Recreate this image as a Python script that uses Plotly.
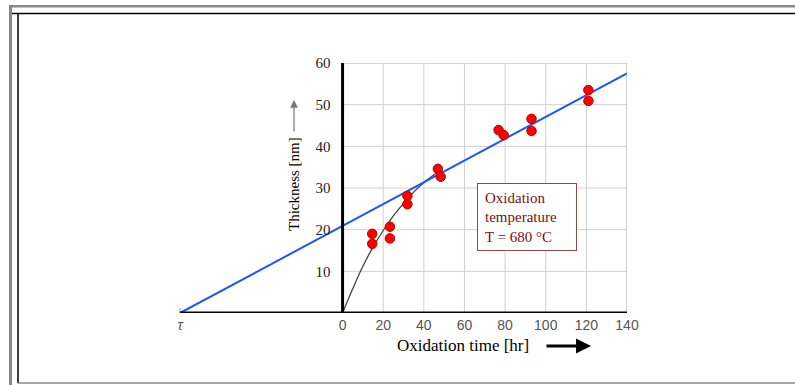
import plotly.graph_objects as go

# ---- data ----
meas_time = [14.6, 14.6, 23.3, 23.3, 31.9, 31.9, 46.9, 48.3, 76.8, 79.3, 93.0, 93.0, 121.0, 121.0]
meas_thick = [19.0, 16.6, 20.7, 17.9, 28.1, 26.1, 34.6, 32.7, 43.9, 42.7, 46.6, 43.7, 53.5, 50.9]

curve_time = [0, 5, 10, 15, 20, 25, 30, 35, 40, 45, 48]
curve_thick = [0, 5.8, 11.2, 15.8, 19.8, 23.3, 26.3, 29.0, 31.3, 33.2, 34.2]

fit_time = [-80, 140]
fit_thick = [0, 57.5]

TAU = -80
x_ticks = [0, 20, 40, 60, 80, 100, 120, 140]
y_ticks = [10, 20, 30, 40, 50, 60]
X_MIN, X_MAX = -81, 140
Y_MIN, Y_MAX = 0, 60

# ---- layout geometry ----
W, H = 795, 385
ML, MR, MT, MB = 178, 168, 63, 72
PW, PH = W - ML - MR, H - MT - MB


def xp(px):
    return (px - ML) / PW


def yp(py):
    return (H - MB - py) / PH


fig = go.Figure()

# grid as shapes (only over positive time)
shapes = []
for v in y_ticks:
    shapes.append(dict(type="line", xref="x", yref="y", x0=0, x1=x_ticks[-1], y0=v, y1=v,
                       line=dict(color="#b0b0b0" if v == y_ticks[-1] else "#d0d0d0", width=1), layer="below"))
for v in x_ticks[1:]:
    shapes.append(dict(type="line", xref="x", yref="y", x0=v, x1=v, y0=Y_MIN, y1=Y_MAX,
                       line=dict(color="#a0a0a0" if v == x_ticks[-1] else "#d0d0d0", width=1), layer="below"))
# tau tick
shapes.append(dict(type="line", xref="x", yref="y", x0=TAU, x1=TAU, y0=-1.4, y1=1.2,
                   line=dict(color="#999999", width=1)))
# y axis line at time 0
shapes.append(dict(type="line", xref="x", yref="y", x0=0, x1=0, y0=Y_MIN, y1=Y_MAX,
                   line=dict(color="black", width=3)))
# x axis line
shapes.append(dict(type="line", xref="x", yref="y", x0=TAU, x1=X_MAX, y0=0, y1=0,
                   line=dict(color="black", width=3)))

# page frame
shapes += [
    dict(type="rect", xref="paper", yref="paper", x0=xp(9), x1=xp(12), y0=yp(385), y1=yp(5),
         fillcolor="#888888", line=dict(width=0)),
    dict(type="rect", xref="paper", yref="paper", x0=xp(9), x1=xp(800), y0=yp(7.5), y1=yp(5),
         fillcolor="#888888", line=dict(width=0)),
    dict(type="line", xref="paper", yref="paper", x0=xp(12), x1=xp(800), y0=yp(13.5), y1=yp(13.5),
         line=dict(color="black", width=1.5)),
    dict(type="line", xref="paper", yref="paper", x0=xp(18), x1=xp(18), y0=yp(13.5), y1=yp(383),
         line=dict(color="black", width=1.5)),
    dict(type="line", xref="paper", yref="paper", x0=xp(18), x1=xp(800), y0=yp(383), y1=yp(383),
         line=dict(color="#888888", width=1.5)),
]

fig.add_trace(go.Scatter(x=curve_time, y=curve_thick, mode="lines", line=dict(color="#444444", width=1.3),
                         line_shape="spline", hoverinfo="skip"))
fig.add_trace(go.Scatter(x=fit_time, y=fit_thick, mode="lines", line=dict(color="#1a55ff", width=2),
                         hoverinfo="skip"))
fig.add_trace(go.Scatter(x=meas_time, y=meas_thick, mode="markers",
                         marker=dict(color="#ff0000", size=9.5, line=dict(color="#c00000", width=1))))

annotations = [
    dict(x=90.9, y=23.0, xref="x", yref="y", xanchor="center", yanchor="middle",
         text="Oxidation<br>temperature<br>T = 680 °C", showarrow=False, align="left",
         font=dict(family="Liberation Serif", size=15, color="#7a1010"),
         bordercolor="#8b4a4a", borderwidth=1, borderpad=7, bgcolor="white", width=84, height=52),
    dict(x=xp(294), y=yp(184), xref="paper", yref="paper", xanchor="center", yanchor="middle",
         text="Thickness [nm]", textangle=-90,
         showarrow=False, font=dict(family="Liberation Serif", size=15, color="black")),
    dict(x=xp(294), y=yp(100), xref="paper", yref="paper", text="", showarrow=True, ax=0, ay=33,
         arrowhead=2, arrowsize=1.3, arrowwidth=1.2, arrowcolor="#777777"),
    dict(x=xp(463), y=yp(345), xref="paper", yref="paper", xanchor="center", yanchor="middle",
         text="Oxidation time [hr]",
         showarrow=False, font=dict(family="Liberation Serif", size=17, color="black")),
    dict(x=xp(591), y=yp(346), xref="paper", yref="paper", text="", showarrow=True, ax=-46, ay=0,
         arrowhead=2, arrowsize=1, arrowwidth=3, arrowcolor="black"),
]

fig.update_layout(
    width=W, height=H, margin=dict(l=ML, r=MR, t=MT, b=MB),
    paper_bgcolor="white", plot_bgcolor="white", showlegend=False,
    shapes=shapes, annotations=annotations,
    xaxis=dict(range=[X_MIN, X_MAX], showgrid=False, zeroline=False, showline=False,
               tickvals=[TAU] + x_ticks, ticktext=["<i>τ</i>"] + [str(v) for v in x_ticks],
               ticks="", ticklabelstandoff=2,
               tickfont=dict(family="Liberation Sans", size=14, color="#555555")),
    yaxis=dict(range=[Y_MIN, Y_MAX], showgrid=False, zeroline=False, showline=False,
               anchor="free", position=(0 - X_MIN) / (X_MAX - X_MIN),
               tickvals=y_ticks, ticks="", ticklabelstandoff=12,
               tickfont=dict(family="Liberation Serif", size=15, color="#222222")),
)

fig.write_html("out.html", config={"displayModeBar": False},
               post_script="document.body.style.margin='0px';document.body.style.overflow='hidden';")
